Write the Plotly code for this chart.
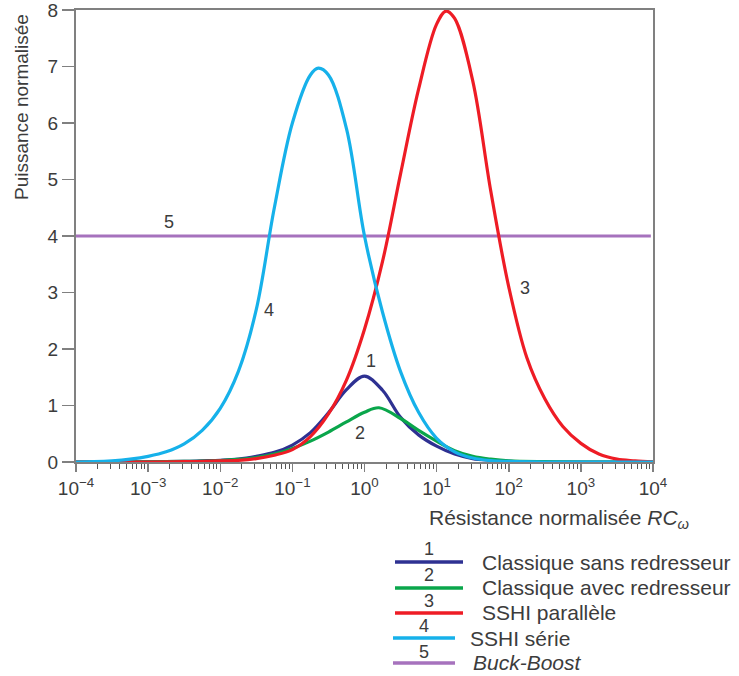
import plotly.graph_objects as go

# ---------------- data ----------------
# x positions given as log10 exponents of the normalised resistance RC_omega
blue_exp = [-4, -3, -2.5, -2.25, -2, -1.75, -1.5, -1.25, -1, -0.75, -0.5, -0.25, 0, 0.25, 0.5,
            0.75, 1, 1.25, 1.5, 1.75, 2, 2.5, 3, 4]
blue_val = [0, 0.003, 0.01, 0.02, 0.03, 0.05, 0.1, 0.17, 0.3, 0.52, 0.87, 1.28, 1.52, 1.27, 0.79,
            0.48, 0.28, 0.14, 0.06, 0.03, 0.01, 0, 0, 0]

green_exp = [-4, -3, -2.5, -2.25, -2, -1.75, -1.5, -1.25, -1, -0.75, -0.5, -0.25, 0, 0.2, 0.5,
             0.75, 1, 1.25, 1.5, 1.75, 2, 2.5, 3, 4]
green_val = [0, 0.003, 0.01, 0.015, 0.025, 0.045, 0.08, 0.14, 0.24, 0.37, 0.53, 0.71, 0.88, 0.96, 0.77,
             0.56, 0.37, 0.2, 0.1, 0.05, 0.02, 0.005, 0, 0]

red_exp = [-4, -3, -2.5, -2, -1.75, -1.5, -1.25, -1, -0.75, -0.5, -0.25, 0, 0.25, 0.5, 0.75, 1,
           1.13, 1.25, 1.5, 1.75, 2, 2.25, 2.5, 2.75, 3, 3.25, 3.5, 3.75, 4]
red_val = [0, 0, 0.005, 0.02, 0.03, 0.06, 0.12, 0.22, 0.45, 0.85, 1.45, 2.35, 3.55, 5.1, 6.6, 7.75,
           7.98, 7.85, 6.75, 4.8, 3.1, 1.85, 1.12, 0.63, 0.33, 0.14, 0.05, 0.02, 0]

cyan_exp = [-4, -3.75, -3.5, -3.25, -3, -2.75, -2.5, -2.25, -2, -1.75, -1.5, -1.25, -1, -0.75,
            -0.64, -0.5, -0.25, 0, 0.25, 0.5, 0.75, 1, 1.25, 1.5, 1.75, 2, 2.5, 3, 4]
cyan_val = [0, 0.005, 0.02, 0.05, 0.1, 0.18, 0.32, 0.56, 0.95, 1.6, 2.7, 4.5, 6.0, 6.85,
            6.97, 6.85, 5.9, 4.0, 2.65, 1.6, 0.88, 0.42, 0.18, 0.07, 0.025, 0.01, 0, 0, 0]

buck_exp = [-4, 3.97]
buck_val = [4, 4]

series_names = ["Classique sans redresseur", "Classique avec redresseur", "SSHI parallèle",
                "SSHI série", "<i>Buck-Boost</i>"]
series_nums = ["1", "2", "3", "4", "5"]
colors = ["#2e3192", "#0aa64b", "#ee1c25", "#16b1ea", "#a672bd"]

# curve number labels (log10 x, y)
label_exp = [0.09, -0.06, 2.23, -1.33, -2.71]
label_val = [1.78, 0.51, 3.08, 2.69, 4.25]

x_tick_exp = [-4, -3, -2, -1, 0, 1, 2, 3, 4]
y_ticks = [0, 1, 2, 3, 4, 5, 6, 7, 8]

# ---------------- figure ----------------
FONT = "Liberation Sans, Arial, Helvetica, sans-serif"
TXT = "#3c3c3c"
AX = "#808080"

W, H = 739, 676
# plot-area edges in pixels
L_, R_, T_, B_ = 76, 653, 10, 462


def pxx(x):
    return (x - L_) / (R_ - L_)


def pxy(y):
    return (B_ - y) / (B_ - T_)


fig = go.Figure()

data = [
    (buck_exp, buck_val, 4),
    (blue_exp, blue_val, 0),
    (green_exp, green_val, 1),
    (red_exp, red_val, 2),
    (cyan_exp, cyan_val, 3),
]
for exps, vals, i in data:
    fig.add_trace(go.Scatter(
        x=[10 ** e for e in exps], y=vals, mode="lines",
        line=dict(color=colors[i], width=3.2, shape="spline" if i != 4 else "linear", smoothing=1.0),
        name=series_names[i], showlegend=False, hoverinfo="skip"))

annotations = []
for i in range(5):
    annotations.append(dict(x=label_exp[i], y=label_val[i], xref="x", yref="y",
                            text=series_nums[i], showarrow=False,
                            font=dict(family=FONT, size=18, color=TXT)))

# axis titles
annotations.append(dict(x=pxx(22), y=pxy(107), xref="paper", yref="paper", text="Puissance normalisée",
                        textangle=-90, showarrow=False, xanchor="center", yanchor="middle",
                        font=dict(family=FONT, size=19, color=TXT)))
annotations.append(dict(x=pxx(691), y=pxy(519), xref="paper", yref="paper",
                        text="Résistance normalisée <i>RC</i><sub><i>ω</i></sub>",
                        showarrow=False, xanchor="right", yanchor="middle",
                        font=dict(family=FONT, size=21, color=TXT)))

# custom legend
shapes = []
leg = [
    # (line x0, x1, line y, number x, number y, text x, text y)
    (395, 463, 562, 429, 549, 480, 562),
    (395, 463, 588, 429, 575, 480, 587),
    (395, 463, 613, 429, 601, 480, 612),
    (393, 455, 638, 424, 626, 468, 638),
    (393, 455, 663, 424, 652, 471, 662),
]
for i, (x0, x1, ly, nx, ny, tx, ty) in enumerate(leg):
    shapes.append(dict(type="line", xref="paper", yref="paper", x0=pxx(x0), x1=pxx(x1),
                       y0=pxy(ly), y1=pxy(ly), line=dict(color=colors[i], width=3.5)))
    annotations.append(dict(x=pxx(nx), y=pxy(ny), xref="paper", yref="paper", text=series_nums[i],
                            showarrow=False, xanchor="center", yanchor="middle",
                            font=dict(family=FONT, size=18, color=TXT)))
    annotations.append(dict(x=pxx(tx), y=pxy(ty), xref="paper", yref="paper", text=series_names[i],
                            showarrow=False, xanchor="left", yanchor="middle",
                            font=dict(family=FONT, size=21, color=TXT)))

fig.update_layout(
    width=W, height=H,
    margin=dict(l=L_, r=(W - R_), t=T_, b=(H - B_), pad=0, autoexpand=False),
    paper_bgcolor="white", plot_bgcolor="white",
    showlegend=False,
    annotations=annotations, shapes=shapes,
    font=dict(family=FONT, size=15, color=TXT),
)

fig.update_xaxes(
    type="log", range=[-4, 4], automargin=False, ticklabeloverflow="allow",
    tickvals=[10 ** e for e in x_tick_exp],
    ticktext=["10<sup>%s</sup>" % (str(e).replace("-", "−")) for e in x_tick_exp],
    ticks="outside", ticklen=8, tickwidth=1.5, tickcolor=AX,
    minor=dict(ticks="outside", ticklen=5, tickwidth=1, tickcolor="#555", dtick="D1", showgrid=False),
    showline=True, linecolor=AX, linewidth=2, mirror=True,
    showgrid=False, zeroline=False,
    tickfont=dict(family=FONT, size=19, color=TXT),
)
fig.update_yaxes(
    range=[0, 8], tickvals=y_ticks, automargin=False, ticklabeloverflow="allow",
    ticks="outside", ticklen=12, tickwidth=1.5, tickcolor=AX,
    showline=True, linecolor=AX, linewidth=2, mirror=True,
    showgrid=False, zeroline=False,
    tickfont=dict(family=FONT, size=19, color=TXT),
)

fig.write_html("out.html",
               config={"displayModeBar": False, "staticPlot": True},
               post_script="document.body.style.margin='0';document.body.style.overflow='hidden';")
